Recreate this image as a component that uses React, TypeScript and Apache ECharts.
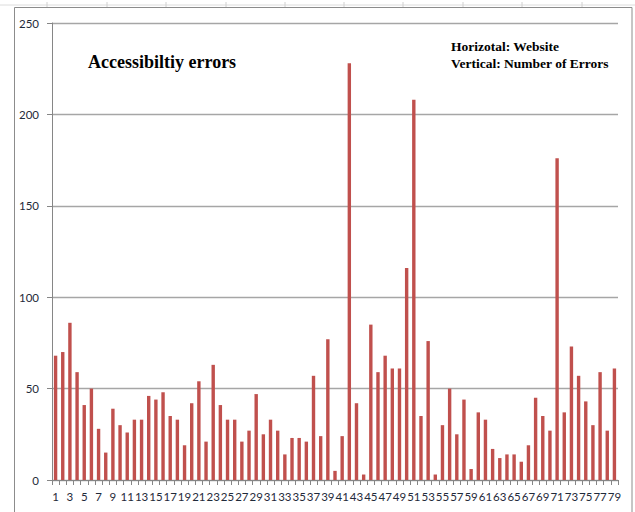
import React, { useEffect, useRef } from "react";
import * as echarts from "echarts";

const categories: string[] = Array.from({ length: 79 }, (_, i) => String(i + 1));
const errors: number[] = [
  68, 70, 86, 59, 41, 50, 28, 15, 39, 30,
  26, 33, 33, 46, 44, 48, 35, 33, 19, 42,
  54, 21, 63, 41, 33, 33, 21, 27, 47, 25,
  33, 27, 14, 23, 23, 21, 57, 24, 77, 5,
  24, 228, 42, 3, 85, 59, 68, 61, 61, 116,
  208, 35, 76, 3, 30, 50, 25, 44, 6, 37,
  33, 17, 12, 14, 14, 10, 19, 45, 35, 27,
  176, 37, 73, 57, 43, 30, 59, 27, 61,
];
const yTicks = { min: 0, max: 250, interval: 50 };
const titleText = "Accessibiltiy errors";
const noteLines = ["Horizotal: Website", "Vertical: Number of Errors"];

const sheetCols = [47, 107, 166, 226, 285, 344, 403, 463, 522, 582];

export default function App() {
  const ref = useRef<HTMLDivElement>(null);
  useEffect(() => {
    document.body.style.margin = "0";
    const chart = echarts.init(ref.current!, null, { renderer: "svg" });
    const labelFont = "Lato, 'Open Sans', sans-serif";
    chart.setOption({
      animation: false,
      backgroundColor: "#ffffff",
      grid: { left: 52, right: 17, top: 23, bottom: 32, containLabel: false },
      xAxis: {
        type: "category",
        data: categories,
        boundaryGap: true,
        axisLine: { show: true, lineStyle: { color: "#868686", width: 1 } },
        axisTick: { show: true, interval: 0, alignWithLabel: false, length: 5, lineStyle: { color: "#868686" } },
        axisLabel: { interval: 1, margin: 10, fontSize: 11.5, color: "#1f2a3a", fontFamily: labelFont },
        splitLine: { show: false },
      },
      yAxis: {
        type: "value",
        min: yTicks.min,
        max: yTicks.max,
        interval: yTicks.interval,
        axisLine: { show: true, lineStyle: { color: "#868686", width: 1 } },
        axisTick: { show: true, length: 5, lineStyle: { color: "#868686" } },
        axisLabel: { margin: 13, fontSize: 11.5, color: "#1f2a3a", fontFamily: labelFont },
        splitLine: { show: true, lineStyle: { color: "#a6a6a6", width: 1.3 } },
      },
      series: [
        {
          type: "bar",
          data: errors,
          barWidth: 3.4,
          itemStyle: { color: "#c0504d" },
        },
      ],
      graphic: [
        {
          type: "line",
          silent: true,
          shape: { x1: 0, y1: 5, x2: 635, y2: 5 },
          style: { stroke: "#dcdcdc", lineWidth: 1 },
        },
        ...sheetCols.map((x) => ({
          type: "line",
          silent: true,
          shape: { x1: x, y1: 2, x2: x, y2: 7 },
          style: { stroke: "#d0d0d0", lineWidth: 1 },
        })),
        {
          type: "rect",
          silent: true,
          shape: { x: 14.5, y: 7.5, width: 617.5, height: 520 },
          style: { fill: "none", stroke: "#8c8c8c", lineWidth: 1 },
        },
        {
          type: "text",
          x: 88,
          y: 62,
          style: {
            text: titleText,
            font: "bold 18px 'Liberation Serif', 'Times New Roman', serif",
            fill: "#000000",
            verticalAlign: "middle",
            align: "left",
          },
        },
        {
          type: "text",
          x: 451,
          y: 38,
          style: {
            text: noteLines.join("\n"),
            font: "bold 13.5px 'Liberation Serif', 'Times New Roman', serif",
            lineHeight: 17,
            fill: "#000000",
            verticalAlign: "top",
            align: "left",
          },
        },
      ],
    });
    return () => chart.dispose();
  }, []);
  return <div ref={ref} style={{ width: 635, height: 512 }} />;
}
